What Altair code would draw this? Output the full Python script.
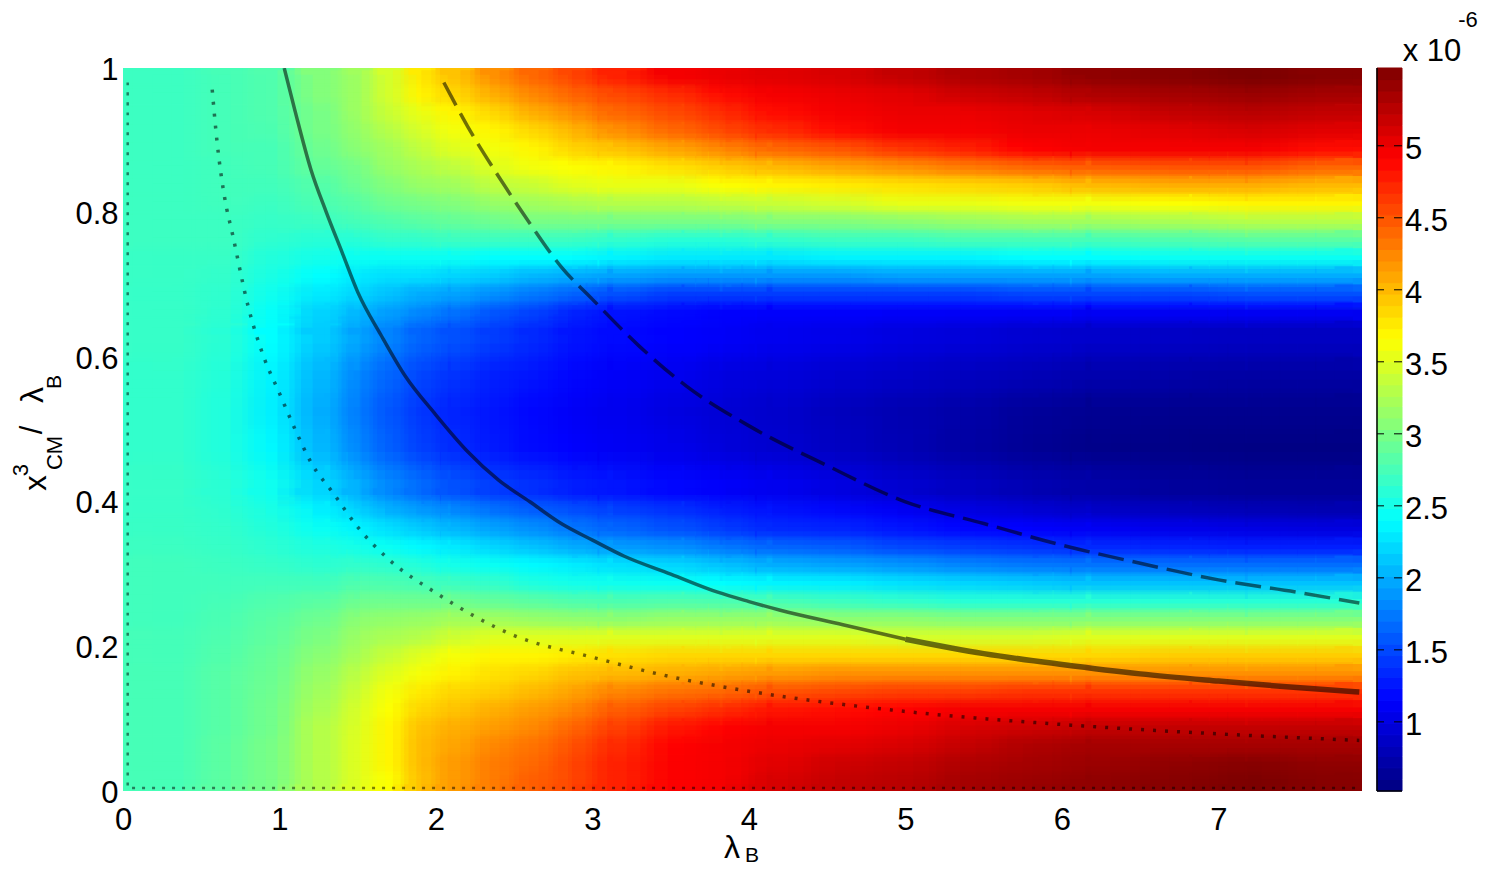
import altair as alt
import pandas as pd

# Heat-map grid (values in units of 1e-6)
x_edges = [0, .5, .8, 1.1, 1.4, 1.6, 1.8, 2.0, 2.25, 2.5, 2.75, 3.0, 3.35, 3.7, 4.0, 4.4, 4.8, 5.2, 5.6, 6.0, 6.5, 7.0, 7.45, 7.917]
y_edges = [1, .975, .95, .925, .9, .875, .85, .825, .8, .775, .75, .725, .7, .675, .65, .6, .55, .5, .45, .4,
           .375, .35, .325, .3, .275, .25, .225, .2, .175, .15, .125, .1, .075, .05, .025, 0]
grid = [
[2.7,2.75,2.8,3.05,3.2,3.45,3.75,3.95,4.2,4.4,4.55,4.75,4.95,5.0,5.05,5.1,5.2,5.3,5.35,5.45,5.5,5.55,5.5],
[2.7,2.75,2.8,3.05,3.2,3.45,3.7,3.85,4.05,4.25,4.4,4.55,4.7,4.85,4.95,5.0,5.05,5.15,5.2,5.3,5.35,5.4,5.35],
[2.7,2.75,2.8,3.0,3.2,3.4,3.55,3.7,3.85,4.05,4.2,4.4,4.55,4.7,4.85,4.95,5.0,5.0,5.05,5.1,5.2,5.25,5.2],
[2.7,2.75,2.78,3.0,3.15,3.3,3.45,3.6,3.7,3.85,4.0,4.2,4.4,4.55,4.7,4.85,4.95,4.95,5.0,5.0,5.05,5.1,5.05],
[2.7,2.75,2.75,2.95,3.1,3.2,3.35,3.5,3.6,3.7,3.85,3.95,4.1,4.25,4.4,4.5,4.65,4.75,4.9,4.95,4.95,4.95,4.85],
[2.7,2.73,2.75,2.9,3.0,3.15,3.25,3.35,3.5,3.6,3.65,3.7,3.8,3.9,4.0,4.1,4.2,4.3,4.4,4.45,4.5,4.5,4.4],
[2.7,2.73,2.73,2.82,2.95,3.05,3.15,3.2,3.35,3.4,3.5,3.55,3.55,3.65,3.7,3.75,3.8,3.85,3.9,4.0,4.05,4.05,4.0],
[2.7,2.72,2.7,2.78,2.85,2.95,3.0,3.05,3.15,3.2,3.25,3.3,3.3,3.35,3.4,3.45,3.55,3.55,3.6,3.6,3.65,3.7,3.7],
[2.7,2.7,2.67,2.7,2.75,2.8,2.85,2.9,2.95,3.0,3.0,3.0,3.0,3.0,3.05,3.05,3.1,3.15,3.2,3.2,3.25,3.3,3.3],
[2.7,2.7,2.63,2.6,2.6,2.65,2.65,2.7,2.7,2.7,2.7,2.65,2.6,2.6,2.65,2.7,2.7,2.75,2.75,2.75,2.8,2.85,2.85],
[2.68,2.68,2.57,2.5,2.45,2.45,2.45,2.45,2.4,2.4,2.4,2.35,2.3,2.3,2.3,2.35,2.35,2.35,2.4,2.4,2.45,2.45,2.45],
[2.68,2.65,2.53,2.4,2.3,2.25,2.25,2.2,2.15,2.05,2.0,1.95,1.9,1.9,1.9,1.9,1.95,1.95,1.95,1.95,2.0,2.0,2.0],
[2.67,2.63,2.48,2.3,2.2,2.1,2.0,1.95,1.85,1.75,1.65,1.55,1.45,1.45,1.45,1.45,1.45,1.45,1.5,1.5,1.5,1.55,1.55],
[2.67,2.62,2.43,2.2,2.05,1.95,1.85,1.75,1.6,1.5,1.35,1.25,1.2,1.15,1.15,1.15,1.15,1.15,1.15,1.15,1.15,1.15,1.15],
[2.67,2.6,2.4,2.15,1.95,1.8,1.65,1.55,1.45,1.35,1.25,1.2,1.15,1.12,1.08,1.05,1.0,.97,.93,.9,.87,.85,.85],
[2.65,2.57,2.35,2.05,1.8,1.65,1.5,1.4,1.3,1.25,1.18,1.12,1.07,1.0,.97,.92,.88,.84,.8,.75,.72,.7,.7],
[2.65,2.55,2.33,2.0,1.75,1.57,1.43,1.32,1.25,1.18,1.12,1.07,1.0,.95,.9,.83,.77,.72,.66,.62,.6,.6,.6],
[2.65,2.55,2.37,2.05,1.8,1.62,1.48,1.36,1.27,1.2,1.15,1.1,1.05,.98,.92,.85,.78,.7,.64,.58,.56,.55,.55],
[2.67,2.6,2.47,2.2,2.0,1.82,1.68,1.55,1.45,1.38,1.3,1.25,1.18,1.13,1.07,1.0,.92,.85,.78,.72,.67,.65,.65],
[2.67,2.62,2.53,2.35,2.2,2.05,1.95,1.85,1.75,1.65,1.58,1.5,1.42,1.32,1.25,1.2,1.12,1.03,.97,.9,.85,.82,.8],
[2.68,2.65,2.57,2.45,2.35,2.25,2.15,2.05,1.95,1.85,1.75,1.65,1.55,1.45,1.35,1.32,1.25,1.18,1.15,1.1,1.05,1.02,1.0],
[2.7,2.67,2.62,2.55,2.5,2.45,2.38,2.3,2.2,2.1,2.0,1.92,1.85,1.75,1.65,1.6,1.5,1.45,1.4,1.35,1.32,1.3,1.3],
[2.72,2.7,2.67,2.62,2.65,2.62,2.58,2.5,2.45,2.38,2.32,2.25,2.2,2.1,2.0,1.95,1.88,1.8,1.75,1.72,1.7,1.7,1.7],
[2.72,2.72,2.73,2.72,2.8,2.78,2.75,2.7,2.65,2.55,2.5,2.48,2.45,2.4,2.35,2.32,2.25,2.2,2.15,2.1,2.1,2.1,2.1],
[2.72,2.75,2.8,2.85,2.95,2.95,2.95,2.95,2.9,2.85,2.8,2.78,2.8,2.78,2.75,2.7,2.65,2.6,2.6,2.6,2.6,2.6,2.6],
[2.72,2.78,2.85,2.95,3.1,3.12,3.15,3.2,3.2,3.15,3.12,3.1,3.15,3.15,3.15,3.1,3.1,3.05,3.05,3.05,3.05,3.05,3.05],
[2.74,2.8,2.88,3.02,3.18,3.25,3.3,3.42,3.5,3.5,3.5,3.5,3.5,3.5,3.5,3.5,3.45,3.45,3.45,3.5,3.5,3.5,3.5],
[2.74,2.82,2.91,3.08,3.25,3.38,3.5,3.62,3.7,3.7,3.75,3.8,3.85,3.85,3.85,3.85,3.85,3.85,3.85,3.85,3.9,3.9,3.9],
[2.75,2.85,2.93,3.15,3.35,3.5,3.62,3.72,3.8,3.85,3.95,4.0,4.05,4.1,4.15,4.2,4.2,4.2,4.2,4.2,4.2,4.2,4.2],
[2.75,2.85,2.95,3.2,3.42,3.6,3.75,3.85,3.9,4.0,4.1,4.25,4.35,4.4,4.5,4.55,4.6,4.6,4.65,4.65,4.65,4.65,4.65],
[2.75,2.85,2.97,3.25,3.48,3.65,3.85,3.95,4.05,4.15,4.25,4.45,4.6,4.7,4.8,4.85,4.9,4.95,4.95,4.95,4.95,4.95,4.95],
[2.75,2.85,2.97,3.3,3.5,3.7,3.95,4.05,4.15,4.25,4.4,4.6,4.8,4.9,4.95,4.95,5.0,5.1,5.15,5.2,5.2,5.2,5.2],
[2.75,2.87,3.0,3.3,3.52,3.7,3.98,4.1,4.25,4.35,4.5,4.7,4.9,4.95,5.0,5.05,5.1,5.2,5.3,5.35,5.35,5.35,5.35],
[2.75,2.87,3.0,3.3,3.52,3.7,3.98,4.15,4.3,4.4,4.55,4.75,4.92,4.95,5.05,5.15,5.2,5.3,5.35,5.4,5.45,5.5,5.45],
[2.75,2.87,3.0,3.3,3.52,3.65,3.95,4.15,4.3,4.45,4.55,4.75,4.92,4.95,5.1,5.2,5.25,5.35,5.4,5.45,5.5,5.55,5.5],
]

# Contour curves
solid_x = [1.03,1.1,1.2,1.3,1.4,1.5,1.65,1.8,2.0,2.2,2.4,2.6,2.8,3.0,3.2,3.5,3.8,4.0,4.2,4.6,5.0]
solid_y = [1.0,.94,.86,.80,.745,.69,.63,.575,.52,.47,.43,.40,.37,.347,.325,.30,.275,.262,.25,.23,.21]
solid_end_x = [5.0,5.5,6.0,6.5,7.0,7.5,7.9]
solid_end_y = [.21,.19,.175,.162,.152,.143,.137]
dashed_x = [2.05,2.2,2.4,2.6,2.8,3.0,3.3,3.6,4.0,4.5,5.0,5.5,6.0,6.5,7.0,7.5,7.9]
dashed_y = [.98,.92,.85,.785,.725,.68,.615,.56,.505,.45,.40,.37,.34,.315,.292,.275,.26]
dotted_x = [.57,.6,.65,.7,.8,.9,1.0,1.1,1.2,1.35,1.5,1.7,2.0,2.5,3.0,3.5,4.0,5.0,6.0,7.0,7.9]
dotted_y = [.97,.9,.82,.77,.67,.60,.55,.50,.455,.41,.365,.32,.274,.215,.185,.158,.138,.11,.092,.079,.07]
edge_x = [.03,.03,7.9]
edge_y = [.98,.004,.004]

x_ticks = [0, 1, 2, 3, 4, 5, 6, 7]
y_ticks = [0, .2, .4, .6, .8, 1]
bar_ticks = [1, 1.5, 2, 2.5, 3, 3.5, 4, 4.5, 5]
# Colour bar steps, bottom to top
bar_levels = [.52,.60,.68,.76,.83,.91,.99,1.07,1.15,1.23,1.31,1.38,1.46,1.54,1.62,1.70,1.78,1.85,1.93,2.01,2.09,2.17,
              2.25,2.32,2.40,2.48,2.56,2.64,2.72,2.79,2.87,2.95,3.03,3.11,3.19,3.26,3.34,3.42,3.50,3.58,3.66,3.73,
              3.81,3.89,3.97,4.05,4.13,4.20,4.28,4.36,4.44,4.52,4.60,4.67,4.75,4.83,4.91,4.99,5.07,5.14,5.22,5.30,
              5.38,5.46,5.54]

v_min, v_max = .52, 5.54
jet_stops = [.52, 1.15, 2.40, 3.66, 4.91, 5.54]
jet_colors = ["#00007f", "#0000ff", "#00ffff", "#ffff00", "#ff0000", "#7f0000"]

FONT = "Liberation Sans"
PW, PH = 1239, 723

xs = alt.Scale(domain=[0, 7.917], nice=False, zero=False)
ys = alt.Scale(domain=[0, 1], nice=False, zero=False)
cs = alt.Scale(domain=jet_stops, range=jet_colors, interpolate="rgb")
x_axis = alt.Axis(values=x_ticks, title=None, grid=False, domain=False, ticks=False,
                  labelFont=FONT, labelFontSize=31, labelColor="black", labelPadding=14,
                  labelFlush=False, labelOverlap=False, format="~g")
y_axis = alt.Axis(values=y_ticks, title=None, grid=False, domain=False, ticks=False,
                  labelFont=FONT, labelFontSize=31, labelColor="black", labelPadding=5,
                  labelOverlap=False, labelOffset=2, format="~g")


def cell_frame(fx, fy):
    # the same grid, displaced by a fraction of each cell, for soft blending of the steps
    rows = []
    for j, row in enumerate(grid):
        for i, v in enumerate(row):
            dx = fx * (x_edges[i + 1] - x_edges[i])
            dy = fy * (y_edges[j] - y_edges[j + 1])
            rows.append({"x0": x_edges[i] + dx, "x1": x_edges[i + 1] + dx,
                         "y0": y_edges[j + 1] + dy, "y1": y_edges[j] + dy, "v": v})
    return pd.DataFrame(rows)


heat = alt.Chart(cell_frame(0, 0)).mark_rect(clip=True, strokeWidth=1).encode(
    x=alt.X("x0:Q", scale=xs, axis=x_axis),
    x2="x1:Q",
    y=alt.Y("y0:Q", scale=ys, axis=y_axis),
    y2="y1:Q",
    color=alt.Color("v:Q", scale=cs, legend=None),
    stroke=alt.Stroke("v:Q", scale=cs, legend=None),
)


def blend(fx, fy, op):
    return alt.Chart(cell_frame(fx, fy)).mark_rect(clip=True, opacity=op).encode(
        x=alt.X("x0:Q", scale=xs, axis=x_axis),
        x2="x1:Q",
        y=alt.Y("y0:Q", scale=ys, axis=None),
        y2="y1:Q",
        color=alt.Color("v:Q", scale=cs, legend=None),
    )


blends = [
    blend(-.375, -.125, 1 / 2),
    blend(.125, .375, 1 / 3),
    blend(.375, -.375, 1 / 4),
    blend(-.125, .125, 1 / 5),
]


def curve(xv, yv, dash, width, op):
    df = pd.DataFrame({"x": xv, "y": yv, "i": range(len(xv))})
    kw = {"strokeDash": dash} if dash else {}
    return alt.Chart(df).mark_line(color="black", strokeWidth=width, opacity=op, clip=True,
                                   interpolate="monotone", **kw).encode(
        x=alt.X("x:Q", scale=xs, axis=x_axis),
        y=alt.Y("y:Q", scale=ys, axis=None),
        order="i:Q",
    )


lines = [
    curve(solid_x, solid_y, None, 3.5, .55),
    curve(solid_end_x, solid_end_y, None, 5.5, .55),
    curve(dashed_x, dashed_y, [26, 9], 3.5, .55),
    curve(dotted_x, dotted_y, [3, 9], 3.5, .55),
    curve(edge_x, edge_y, [3, 7], 2.5, .5),
]

bar_y = alt.Scale(domain=[v_min, v_max], nice=False, zero=False)
bar_df = pd.DataFrame({"a": bar_levels[:-1], "b": bar_levels[1:]})
bar_df["v"] = (bar_df["a"] + bar_df["b"]) / 2
bar = alt.Chart(bar_df).mark_rect(strokeWidth=1).encode(
    x=alt.value(1254), x2=alt.value(1279),
    y=alt.Y("a:Q", scale=bar_y, axis=None), y2="b:Q",
    color=alt.Color("v:Q", scale=cs, legend=None),
    stroke=alt.Stroke("v:Q", scale=cs, legend=None),
)
tick_df = pd.DataFrame({"v": bar_ticks, "t": [f"{t:g}" for t in bar_ticks]})
tick_l = alt.Chart(tick_df).mark_rule(color="black", strokeWidth=1).encode(
    x=alt.value(1254), x2=alt.value(1261), y=alt.Y("v:Q", scale=bar_y, axis=None))
tick_r = alt.Chart(tick_df).mark_rule(color="black", strokeWidth=1).encode(
    x=alt.value(1271), x2=alt.value(1279), y=alt.Y("v:Q", scale=bar_y, axis=None))
tick_txt = alt.Chart(tick_df).mark_text(font=FONT, fontSize=31, color="black", align="left", baseline="middle", dy=4).encode(
    x=alt.value(1282), y=alt.Y("v:Q", scale=bar_y, axis=None), text="t:N")
bar_line = alt.Chart(pd.DataFrame({"a": [v_min], "b": [v_max]})).mark_rule(color="black", strokeWidth=1.5).encode(
    x=alt.value(1254), y=alt.Y("a:Q", scale=bar_y, axis=None), y2="b:Q")
bar_base = alt.Chart(pd.DataFrame({"a": [v_min]})).mark_rule(color="black", strokeWidth=1.5).encode(
    x=alt.value(1254), x2=alt.value(1279), y=alt.Y("a:Q", scale=bar_y, axis=None))


def label(text, px, py, size, angle=0, align="center"):
    return alt.Chart(pd.DataFrame({"t": [text]})).mark_text(
        text=text, font=FONT, fontSize=size, color="black", angle=angle, align=align, baseline="middle"
    ).encode(x=alt.value(px - 123), y=alt.value(py - 68))


texts = [
    label("x 10", 1432, 52, 31),
    label("-6", 1468, 20, 22),
    label("λ", 732, 848, 32),
    label("B", 752, 856, 21),
    label("x", 37, 483, 31, 270),
    label("3", 21, 470, 22, 270),
    label("CM", 55, 453, 22, 270),
    label("/", 33, 430, 31, 270),
    label("λ", 33, 395, 32, 270),
    label("B", 55, 382, 21, 270),
]

chart = alt.layer(heat, *blends, *lines, bar, tick_l, tick_r, bar_line, bar_base, tick_txt, *texts).resolve_scale(
    y="independent"
).properties(
    width=PW, height=PH,
    autosize=alt.AutoSizeParams(type="none"),
    padding={"left": 115, "top": 60, "right": 117, "bottom": 74},
).configure_view(stroke=None)

chart.save("out.html", embed_options={"renderer": "svg", "actions": False})
